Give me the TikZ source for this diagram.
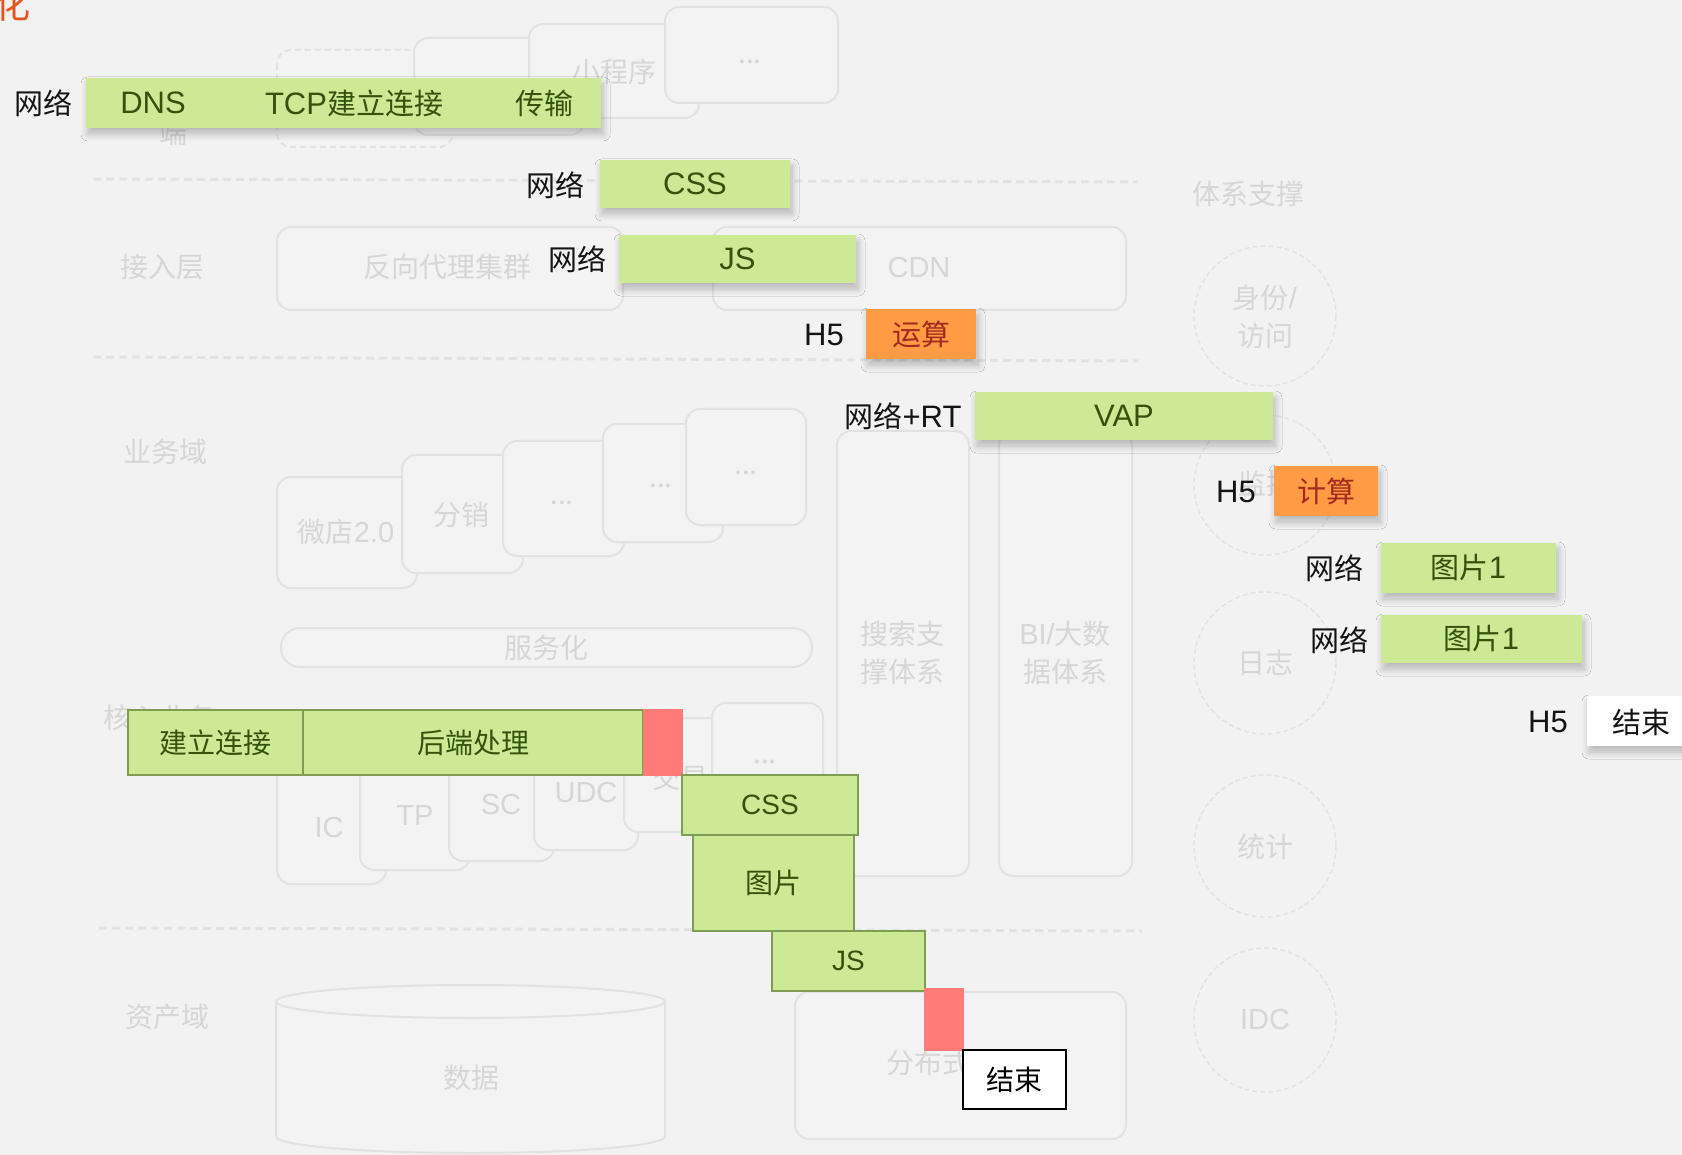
\documentclass[tikz,border=0pt]{standalone}
\usepackage{fontspec}
\setmainfont{Noto Sans CJK SC}
\newfontfamily\latf{Liberation Sans}
\newcommand\lsx[1]{{\latf\fontsize{31}{34}\selectfont #1}}
\newcommand\lsb[1]{{\latf\fontsize{29}{34}\selectfont #1}}
\newcommand\lsw[1]{{\latf\fontsize{28}{34}\selectfont #1}}
\usetikzlibrary{shadows.blur}
\definecolor{bgc}{HTML}{F2F2F2}
\definecolor{bgboxc}{HTML}{F3F3F3}
\definecolor{bgline}{HTML}{E2E2E2}
\definecolor{bgtext}{HTML}{D6D6D6}
\definecolor{barg}{HTML}{CCE995}
\definecolor{gtext}{HTML}{34520A}
\definecolor{gedge}{HTML}{7E9C52}
\definecolor{orangef}{HTML}{FF9A45}
\definecolor{otext}{HTML}{A32A1C}
\definecolor{redblk}{HTML}{FF7B77}
\definecolor{titlec}{HTML}{E8541E}
\tikzset{
  bgbox/.style={draw=bgline, line width=2pt, fill=bgboxc, rounded corners=14pt},
  bgtxt/.style={text=bgtext, font=\fontsize{28}{38}\selectfont, inner sep=0pt, align=center},
  bgdash/.style={draw=bgline, line width=3pt, dash pattern=on 8pt off 5pt},
  bgcirc/.style={draw=bgline, line width=1.5pt, dash pattern=on 5pt off 3pt},
  lbl/.style={text=black!92, font=\fontsize{29}{34}\selectfont, inner sep=0pt},
  gtx/.style={text=gtext, font=\fontsize{29}{34}\selectfont, inner sep=0pt},
  softshadow/.style={blur shadow={shadow xshift=2pt, shadow yshift=-6pt, shadow blur radius=7pt, shadow blur steps=12, shadow opacity=25}},
  fgbar/.style={fill=barg, inner sep=0pt, softshadow, text=gtext, font=\fontsize{29}{34}\selectfont},
  obar/.style={fill=orangef, inner sep=0pt, softshadow, text=otext, font=\fontsize{29}{34}\selectfont},
  wbar/.style={fill=white, inner sep=0pt, softshadow},
  wf/.style={fill=barg, draw=gedge, line width=1.5pt, inner sep=0pt, text=gtext, font=\fontsize{28}{34}\selectfont},
  rblk/.style={fill=redblk, inner sep=0pt},
  endbox/.style={fill=white, draw=black, line width=1.5pt, inner sep=0pt, text=black, font=\fontsize{28}{34}\selectfont}
}
\begin{document}
\begin{tikzpicture}[x=1pt, y=-1pt]
\useasboundingbox (0,0) rectangle (1682,1155);
\clip (0,0) rectangle (1682,1155);
\fill[bgc] (0,0) rectangle (1682,1155);

% ---------- faded background architecture ----------
\draw[bgdash] (93,179) -- (1138,182);
\draw[bgdash] (93,357) -- (1138,361);
\draw[bgdash] (99,928) -- (1142,931);

\node[bgtxt] (lduan) at (173,133) {端};
\node[bgtxt] (ljr) at (162,267) {接入层};
\node[bgtxt] (lyw) at (165,452) {业务域};
\node[bgtxt] (lhx) at (159,718) {核心业务};
\node[bgtxt] (lzc) at (167,1017) {资产域};
\node[bgtxt] (ltx) at (1248,194) {体系支撑};

% top row
\draw[bgbox, dash pattern=on 6pt off 4pt] (277,50) rectangle (453,147);
\draw[bgbox] (414,38) rectangle (584,135);
\draw[bgbox] (529,24) rectangle (699,118);
\node[bgtxt] (xcx) at (614,72) {小程序};
\draw[bgbox] (665,7) rectangle (838,103);
\node[bgtxt] (td) at (750,62) {...};

% access layer
\draw[bgbox] (277,227) rectangle (623,310);
\node[bgtxt] (fxdl) at (447,267) {反向代理集群};
\draw[bgbox] (713,227) rectangle (1126,310);
\node[bgtxt] (cdn) at (919,268) {\lsb{CDN}};

% business domain
\draw[bgbox] (277,477) rectangle (417,588);
\node[bgtxt] (wd) at (346,532) {微店\lsb{2.0}};
\draw[bgbox] (402,455) rectangle (523,573);
\node[bgtxt] (fx) at (461,515) {分销};
\draw[bgbox] (503,441) rectangle (624,556);
\node[bgtxt] (bd1) at (562,503) {...};
\draw[bgbox] (603,424) rectangle (723,542);
\node[bgtxt] (bd2) at (661,486) {...};
\draw[bgbox] (686,409) rectangle (806,525);
\node[bgtxt] (bd3) at (746,473) {...};
\draw[bgbox, rounded corners=19pt] (281,628) rectangle (812,667);
\node[bgtxt] (fwh) at (546,648) {服务化};

% core business
\draw[bgbox] (277,766) rectangle (386,884);
\node[bgtxt] (ic) at (329,828) {\lsb{IC}};
\draw[bgbox] (360,756) rectangle (470,870);
\node[bgtxt] (tp) at (415,816) {\lsb{TP}};
\draw[bgbox] (449,747) rectangle (554,861);
\node[bgtxt] (sc) at (501,805) {\lsb{SC}};
\draw[bgbox] (534,736) rectangle (638,850);
\node[bgtxt] (udc) at (586,793) {\lsb{UDC}};
\draw[bgbox] (624,718) rectangle (735,832);
\node[bgtxt] (jy) at (680,778) {交易};
\draw[bgbox] (712,703) rectangle (823,818);
\node[bgtxt] (cd) at (765,762) {...};

% vertical systems
\draw[bgbox] (837,431) rectangle (969,876);
\node[bgtxt] (ss) at (902,653) {搜索支\\撑体系};
\draw[bgbox] (999,431) rectangle (1132,876);
\node[bgtxt] (bi) at (1065,653) {\lsb{BI/}大数\\据体系};

% asset domain
\fill[bgboxc] (276,1001.5) -- (276,1136.5) arc[start angle=180, end angle=0, x radius=194.5, y radius=16.5] -- (665,1001.5) -- cycle;
\draw[bgline, line width=2pt] (276,1001.5) -- (276,1136.5) arc[start angle=180, end angle=0, x radius=194.5, y radius=16.5] -- (665,1001.5);
\draw[bgline, line width=2pt, fill=bgboxc] (470.5,1001.5) ellipse [x radius=194.5, y radius=16.5];
\node[bgtxt] (sj) at (471,1078) {数据};
\draw[bgbox] (795,992) rectangle (1126,1139);
\node[bgtxt, anchor=west] (fbs) at (886,1063) {分布式};

% support circles
\draw[bgcirc] (1265,316) ellipse [x radius=71, y radius=70];
\node[bgtxt] (sf) at (1265,317) {身份\lsb{/}\\访问};
\draw[bgcirc] (1265,485) ellipse [x radius=71, y radius=70];
\node[bgtxt] (jk) at (1266,484) {监控};
\draw[bgcirc] (1265,663) ellipse [x radius=71, y radius=71];
\node[bgtxt] (rz) at (1265,663) {日志};
\draw[bgcirc] (1265,846) ellipse [x radius=71, y radius=71];
\node[bgtxt] (tj) at (1265,847) {统计};
\draw[bgcirc] (1265,1020) ellipse [x radius=71, y radius=72];
\node[bgtxt] (idc) at (1265,1020) {\lsb{IDC}};

% ---------- title fragment ----------
\node[text=titlec, font=\fontsize{36}{40}\selectfont, inner sep=0pt, anchor=base east] (ttl) at (31,19) {化};

% ---------- waterfall (bottom) ----------
\node[wf, minimum width=175pt, minimum height=65pt] (jllj) at (215.5,742.5) {建立连接};
\node[wf, minimum width=340pt, minimum height=65pt] (hdcl) at (473,742.5) {后端处理};
\node[rblk, minimum width=40pt, minimum height=67pt] (red1) at (663,742.5) {};
\node[wf, minimum width=176pt, minimum height=60pt] (wcss) at (770,805) {\lsw{CSS}};
\node[wf, minimum width=161pt, minimum height=96pt] (wimg) at (773.5,883) {图片};
\node[wf, minimum width=153pt, minimum height=60pt] (wjs) at (848.5,961) {\lsw{JS}};
\node[rblk, minimum width=40pt, minimum height=63pt] (red2) at (944,1019.5) {};
\node[endbox, minimum width=103pt, minimum height=59pt] (wend) at (1014.5,1079.5) {结束};

% ---------- cascade (top) ----------
\node[lbl] (l1) at (43,103) {网络};
\node[fgbar, minimum width=515pt, minimum height=50pt] (dns) at (343.5,103) {};
\node[gtx] (tdns) at (153,103) {\lsx{DNS}};
\node[gtx] (ttcp) at (354,103) {\lsx{TCP}建立连接};
\node[gtx] (tcs) at (544,103) {传输};

\node[lbl] (l2) at (555,185) {网络};
\node[fgbar, minimum width=190pt, minimum height=48pt] (css1) at (695,184) {\lsx{CSS}};

\node[lbl] (l3) at (577,259) {网络};
\node[fgbar, minimum width=237pt, minimum height=48pt] (js1) at (737.5,259) {\lsx{JS}};

\node[lbl] (l4) at (824,335) {\lsx{H5}};
\node[obar, minimum width=110pt, minimum height=50pt] (ys) at (921,334) {运算};

\node[lbl] (l5) at (903,416) {网络\lsx{+RT}};
\node[fgbar, minimum width=298pt, minimum height=48pt] (vap) at (1124,416) {\lsx{VAP}};

\node[lbl] (l6) at (1236,492) {\lsx{H5}};
\node[obar, minimum width=104pt, minimum height=50pt] (js2) at (1326,491) {计算};

\node[lbl] (l7) at (1334,568) {网络};
\node[fgbar, minimum width=175pt, minimum height=50pt] (img1) at (1468.5,568) {图片\lsx{1}};

\node[lbl] (l8) at (1339,640) {网络};
\node[fgbar, minimum width=201pt, minimum height=48pt] (img2) at (1481.5,639) {图片\lsx{1}};

\node[lbl] (l9) at (1548,722) {\lsx{H5}};
\node[wbar, minimum width=113pt, minimum height=50pt] (end1) at (1643.5,721) {};
\node[lbl] (tend) at (1641,722) {结束};
\end{tikzpicture}
\end{document}
